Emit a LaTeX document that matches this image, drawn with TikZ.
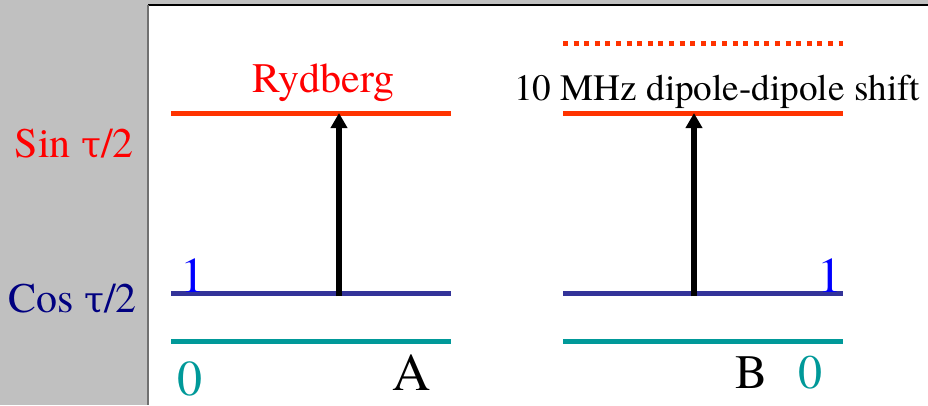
\documentclass[tikz,border=0pt]{standalone}
\usepackage{fontspec}
\setmainfont{texgyretermes-regular.otf}
\newfontfamily\tms{texgyretermes-regular.otf}
\newfontfamily\grk{DejaVu Serif}
\usetikzlibrary{arrows.meta}
\definecolor{bggray}{HTML}{C0C0C0}
\definecolor{rydred}{HTML}{FF3300}
\definecolor{lvlblue}{HTML}{333399}
\definecolor{lvlteal}{HTML}{009999}
\definecolor{navy}{HTML}{000080}
\definecolor{edgegray}{HTML}{707070}
\tikzset{
  lvl/.style={line width=5bp},
  ryd/.style={lvl, draw=rydred},
  one/.style={lvl, draw=lvlblue},
  zero/.style={lvl, draw=lvlteal},
  shiftline/.style={line width=5bp, draw=rydred, dash pattern=on 5bp off 5.6bp},
  excite/.style={line width=6bp, -{Triangle[width=16bp,length=15bp]}},
  lbl/.style={inner sep=0pt, anchor=base, font=\tms},
}
\newcommand{\fs}[1]{\fontsize{#1bp}{#1bp}\selectfont}
\newcommand{\tauch}{{\grk\fontsize{36bp}{36bp}\selectfont τ}}
\begin{document}
\begin{tikzpicture}[x=1bp,y=-1bp]
\useasboundingbox (0,0) rectangle (928,405);
\fill[bggray] (0,0) rectangle (928,405);
\fill[white] (148,5) rectangle (928,405);
\draw[black, line width=1.5bp] (148,5) -- (928,5);
\draw[edgegray, line width=2bp] (148,5) -- (148,405);
% atom A levels
\coordinate (rA1) at (171,113); \coordinate (rA2) at (451,113);
\coordinate (oA1) at (171,293.5); \coordinate (oA2) at (451,293.5);
\coordinate (zA1) at (171,341.5); \coordinate (zA2) at (451,341.5);
\draw[ryd] (rA1) -- (rA2);
\draw[one] (oA1) -- (oA2);
\draw[zero] (zA1) -- (zA2);
% atom B levels
\coordinate (dB1) at (563,43); \coordinate (dB2) at (843,43);
\coordinate (rB1) at (563,113); \coordinate (rB2) at (843,113);
\coordinate (oB1) at (563,293.5); \coordinate (oB2) at (843,293.5);
\coordinate (zB1) at (563,341.5); \coordinate (zB2) at (843,341.5);
\draw[shiftline] (dB1) -- (dB2);
\draw[ryd] (rB1) -- (rB2);
\draw[one] (oB1) -- (oB2);
\draw[zero] (zB1) -- (zB2);
% excitation arrows
\coordinate (aA0) at (339,296); \coordinate (aA1) at (339,113);
\coordinate (aB0) at (694,296); \coordinate (aB1) at (694,113);
\draw[excite] (aA0) -- (aA1);
\draw[excite] (aB0) -- (aB1);
% labels
\node[lbl, text=red] (ryd) at (323.5,92) {\fs{42}Rydberg};
\node[lbl, anchor=base west] (shift) at (514,100) {\fs{37.2}10 MHz dipole-dipole shift};
\node[lbl, anchor=base east, text=red] (sin) at (134,157) {\fs{42}Sin \tauch/2};
\node[lbl, anchor=base east, text=navy] (cos) at (137,312) {\fs{42}Cos \tauch/2};
\node[lbl, text=blue] (oneA) at (193,292) {\fs{50}1};
\node[lbl, text=lvlteal] (zeroA) at (190,395) {\fs{50}0};
\node[lbl] (labA) at (412,390) {\fs{53}A};
\node[lbl] (labB) at (751,388) {\fs{48}B};
\node[lbl, text=lvlteal] (zeroB) at (810,388) {\fs{48}0};
\node[lbl, text=blue] (oneB) at (829.5,292) {\fs{50}1};
\end{tikzpicture}
\end{document}
